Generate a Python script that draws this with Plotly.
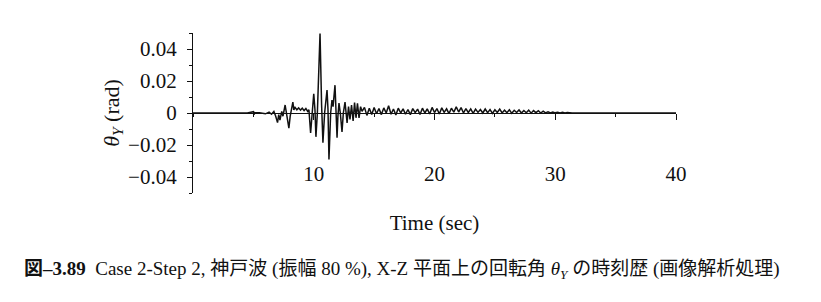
import plotly.graph_objects as go

# ---- data ----
time_s = [0, 1, 2, 3, 4, 4.5, 5.0, 5.05, 5.1, 5.5, 6.0, 6.3, 6.5, 6.7, 6.85,
          7.0, 7.1, 7.2, 7.35, 7.45, 7.63, 7.75, 7.94, 8.05, 8.15, 8.27, 8.35, 8.45, 8.6, 8.75,
          8.9, 9.05, 9.2, 9.35, 9.5, 9.6, 9.74, 9.85, 10.0, 10.1, 10.18, 10.3, 10.52, 10.65, 10.76,
          10.9, 11.1, 11.18, 11.26, 11.4, 11.51, 11.6, 11.76, 11.85, 11.93, 12.0, 12.09, 12.2, 12.34,
          12.45, 12.59, 12.68, 12.76, 12.88, 13.0, 13.13, 13.26, 13.38, 13.5, 13.62, 13.75, 13.88,
          14.0, 14.2, 14.4, 14.6, 14.8, 15.0, 15.2, 15.4, 15.6, 15.8, 16.0, 16.2, 16.4, 16.6, 16.8,
          17.0, 17.2, 17.4, 17.6, 17.8, 18.0, 18.2, 18.4, 18.6, 18.8, 19.0, 19.2, 19.4, 19.6, 19.8,
          20.0, 20.2, 20.4, 20.6, 20.8, 21.0, 21.2, 21.4, 21.6, 21.8, 22.0, 22.2, 22.4, 22.6, 22.8,
          23.0, 23.2, 23.4, 23.6, 23.8, 24.0, 24.2, 24.4, 24.6, 24.8, 25.0, 25.2, 25.4, 25.6, 25.8,
          26.0, 26.2, 26.4, 26.6, 26.8, 27.0, 27.2, 27.4, 27.6, 27.8, 28.0, 28.2, 28.4, 28.6, 28.8,
          29.0, 29.2, 29.4, 29.6, 29.8, 30.0, 30.2, 30.4, 30.6, 30.8, 31.0, 31.2, 31.4, 40.0]

theta_y = [0, 0, 0.0002, 0, 0.0003, 0, 0.0008, -0.0012, 0.0003, 0.0002, -0.0005, 0.0006, -0.0008, 0.0010, -0.0020,
           -0.006, -0.001, -0.0045, 0.001, -0.002, 0.005, -0.001, -0.0095, -0.002, 0.002, 0.0068, 0.002, 0.0035, 0.002, 0.0032,
           0.0018, 0.003, 0.0015, 0.0028, 0.001, 0.002, -0.0124, -0.004, 0.012, 0.002, -0.0149, 0.0, 0.0496, 0.005, -0.0186,
           0.0, 0.0143, 0.002, -0.029, 0.0, 0.008, 0.004, 0.0174, 0.0, -0.0155, -0.002, 0.0062, 0.0, -0.0118,
           0.0, 0.0068, 0.0, -0.0062, 0.004, -0.004, 0.005, -0.005, 0.0065, -0.003, 0.006, -0.003, 0.004,
           0.001, 0.0035, -0.0015, 0.003, -0.001, 0.0035, -0.0005, 0.0028, -0.001, 0.0032, 0.0, 0.0045, -0.0008, 0.0025, -0.0012,
           0.003, 0.0, 0.0026, -0.0008, 0.0022, -0.001, 0.0028, 0.0002, 0.0024, -0.0009, 0.003, 0.0, 0.0026, -0.0006, 0.0035,
           0.0003, 0.0028, -0.0006, 0.0032, 0.0004, 0.0026, -0.0004, 0.003, 0.0005, 0.0038, 0.0006, 0.0034, 0.0, 0.0028, 0.0003,
           0.0026, -0.0002, 0.0024, 0.0004, 0.0022, 0.0, 0.0025, 0.0002, 0.0021, -0.0002, 0.002, 0.0003, 0.0024, 0.0, 0.0018,
           0.0002, 0.002, -0.0002, 0.0017, 0.0003, 0.0019, 0.0, 0.0016, 0.0002, 0.0018, -0.0001, 0.0015, 0.0002, 0.0014, 0.0,
           0.0012, 0.0001, 0.0008, 0.0, 0.0006, 0.0001, 0.0005, 0.0, 0.0004, 0.0, 0.0003, 0.0, 0.0, 0.0]

x_ticks = [10, 20, 30, 40]
y_ticks = [-0.04, -0.02, 0, 0.02, 0.04]
y_tick_text = ["\u22120.04", "\u22120.02", "0", "0.02", "0.04"]

FONT = "Liberation Serif, Times New Roman, serif"
CAPFONT = "Liberation Serif, Noto Sans CJK JP, serif"

caption = ("<b>図–3.89</b>  Case 2-Step 2, 神戸波 (振幅 80 %), X-Z 平面上の回転角 "
           "<i>θ<sub>Y</sub></i> の時刻歴 (画像解析処理)")

fig = go.Figure()
fig.add_trace(go.Scatter(x=time_s, y=theta_y, mode="lines",
                         line=dict(color="#111111", width=1.5),
                         xaxis="x", yaxis="y", showlegend=False, hoverinfo="skip"))
fig.add_trace(go.Scatter(x=time_s[:1], y=theta_y[:1], mode="markers",
                         marker=dict(opacity=0), xaxis="x2", yaxis="y",
                         showlegend=False, hoverinfo="skip"))

fig.update_layout(
    width=821, height=302,
    margin=dict(l=193, r=145, t=33, b=109),
    paper_bgcolor="white", plot_bgcolor="white",
    font=dict(family=FONT, color="#111111", size=20),
    xaxis=dict(range=[0, 40], anchor="free", position=0.5,
               showline=True, linecolor="#111111", linewidth=1.3,
               ticks="outside", ticklen=6, tickwidth=1.3, tickcolor="#111111",
               tickvals=x_ticks, showticklabels=False,
               minor=dict(ticks="outside", ticklen=3, tickwidth=1, tickcolor="#111111", dtick=5, tick0=0),
               showgrid=False, zeroline=False),
    xaxis2=dict(range=[0, 40], overlaying="x", anchor="free", position=0.21,
                side="bottom", showline=False, ticks="",
                tickvals=x_ticks, ticktext=[str(v) for v in x_ticks],
                tickfont=dict(family=FONT, size=21, color="#111111"),
                title=dict(text="Time (sec)", font=dict(family=FONT, size=21, color="#111111"), standoff=29),
                showgrid=False, zeroline=False),
    yaxis=dict(range=[-0.05, 0.05], anchor="x",
               showline=True, linecolor="#111111", linewidth=1.3,
               ticks="outside", ticklen=5, tickwidth=1.3, tickcolor="#111111",
               tickvals=y_ticks, ticktext=y_tick_text,
               minor=dict(ticks="outside", ticklen=3, tickwidth=1, tickcolor="#111111", dtick=0.01, tick0=0),
               tickfont=dict(family=FONT, size=21, color="#111111"),
               ticklabelstandoff=6,
               title=dict(text="<i>θ</i><sub><i>Y</i></sub> (rad)", font=dict(family=FONT, size=22, color="#111111"), standoff=2),
               showgrid=False, zeroline=False),
)

fig.add_annotation(
    text=caption,
    xref="paper", yref="paper", x=-0.354, y=-0.48, xanchor="left", yanchor="middle",
    showarrow=False, font=dict(family=CAPFONT, size=19, color="#111111"))

fig.write_html("out.html")
